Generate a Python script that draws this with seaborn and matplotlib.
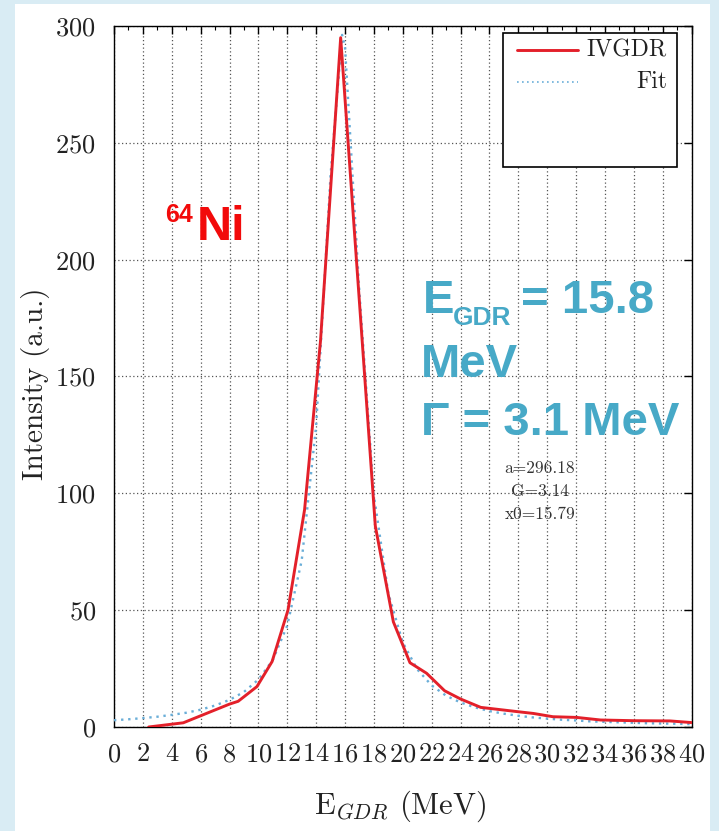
import matplotlib
matplotlib.use("Agg")
import matplotlib.pyplot as plt
import seaborn as sns
import pandas as pd
from matplotlib.patches import Rectangle
from matplotlib.lines import Line2D
from matplotlib.ticker import MultipleLocator

# ---------------- data ----------------
ivgdr_x = [2.4, 4.8, 8.0, 8.6, 9.9, 10.95, 12.05, 13.2, 14.3, 15.7, 18.1, 19.35,
           20.5, 21.65, 22.9, 24.0, 25.4, 27.9, 29.05, 30.4, 32.05, 33.7, 36.0, 38.5, 40.0]
ivgdr_y = [0.0, 1.8, 9.8, 11.0, 17.3, 28.0, 50.0, 93.0, 165.0, 295.0, 86.0, 45.0,
           27.5, 23.0, 15.5, 12.0, 8.4, 6.6, 5.8, 4.4, 4.1, 3.0, 2.7, 2.6, 1.9]

fit_x = [0, 1, 2, 3, 4, 5, 6, 7, 8, 9, 10, 11, 12, 13, 14, 15, 15.8, 16, 17, 18, 19, 20,
         21, 22, 23, 24, 25, 26, 27, 28, 29, 30, 31, 32, 33, 34, 35, 36, 37, 38, 39, 40]
fit_y = [2.9, 3.3, 3.8, 4.4, 5.2, 6.1, 7.4, 9.2, 11.6, 15.0, 20.3, 28.7, 43.4, 71.2,
         128.8, 236.3, 296.2, 291.0, 185.8, 99.3, 57.2, 36.2, 24.7, 17.8, 13.4, 10.5,
         8.4, 6.8, 5.7, 4.8, 4.1, 3.6, 3.1, 2.8, 2.4, 2.2, 2.0, 1.8, 1.6, 1.5, 1.4, 1.2]

series_names = ["IVGDR", "Fit"]
x_ticks = [0, 2, 4, 6, 8, 10, 12, 14, 16, 18, 20, 22, 24, 26, 28, 30, 32, 34, 36, 38, 40]
y_ticks = [0, 50, 100, 150, 200, 250, 300]
fit_params = ["a=296.18", "G=3.14", "x0=15.79"]

# ---------------- style ----------------
sns.set_theme(style="white")
plt.rcParams["font.family"] = ["cmr10", "DejaVu Serif"]
plt.rcParams["mathtext.fontset"] = "cm"
plt.rcParams["axes.formatter.use_mathtext"] = True

W, H = 719, 831
fig = plt.figure(figsize=(W / 100, H / 100), dpi=100, facecolor="#d9ecf4")
fig.add_artist(Rectangle((15 / W, 0), (710 - 15) / W, (H - 4) / H,
                         transform=fig.transFigure, facecolor="white",
                         edgecolor="none", zorder=-5))

ax = fig.add_axes([114 / W, 1 - 727 / H, (691.5 - 114) / W, (727 - 26) / H])
ax.set_facecolor("white")

df = pd.concat([
    pd.DataFrame({"E": ivgdr_x, "I": ivgdr_y, "series": series_names[0]}),
    pd.DataFrame({"E": fit_x, "I": fit_y, "series": series_names[1]}),
], ignore_index=True)

red = "#e3202a"
blue = "#6aaed8"
sns.lineplot(data=df[df.series == "Fit"], x="E", y="I", color=blue, lw=1.7,
             linestyle=(0, (1, 2)), sort=False, estimator=None, ax=ax, zorder=3)
sns.lineplot(data=df[df.series == "IVGDR"], x="E", y="I", color=red, lw=2.1,
             sort=False, estimator=None, ax=ax, zorder=4)

ax.set_xlim(0, 40)
ax.set_ylim(0, 300)
ax.set_xticks(x_ticks)
ax.set_yticks(y_ticks)
ax.xaxis.set_minor_locator(MultipleLocator(1))
ax.grid(True, which="major", color="#555555", linestyle=(0, (1, 2)), linewidth=0.9)
for s in ax.spines.values():
    s.set_color("black")
    s.set_linewidth(1.0)
ax.tick_params(which="both", direction="in", top=True, right=True, colors="black",
               labelcolor="#222222")
ax.tick_params(which="major", length=6, width=1.0, labelsize=19)
ax.tick_params(which="minor", length=3, width=0.8)
ax.tick_params(axis="x", pad=11)
ax.tick_params(axis="y", pad=13)

ax.set_xlabel(r"E$_{GDR}$ (MeV)", fontsize=22, color="#222222")
ax.xaxis.set_label_coords(0.495, -0.088)
ax.set_ylabel("Intensity (a.u.)", fontsize=21, color="#222222")
ax.yaxis.set_label_coords(-0.11, 0.49)

# ---------------- legend (gnuplot style) ----------------
ax.add_patch(Rectangle((0.6736, 0.799), 0.975 - 0.6736, 0.990 - 0.799,
                       transform=ax.transAxes, facecolor="white", edgecolor="black",
                       lw=1.2, zorder=6))
ax.add_line(Line2D([0.698, 0.803], [0.9658, 0.9658], transform=ax.transAxes,
                   color=red, lw=2.1, zorder=7))
ax.add_line(Line2D([0.698, 0.803], [0.920, 0.920], transform=ax.transAxes,
                   color=blue, lw=1.2, linestyle=(0, (1, 2)), zorder=7))
ax.text(0.9576, 0.9658, series_names[0], transform=ax.transAxes, ha="right",
        va="center", fontsize=17, color="#222222", zorder=8)
ax.text(0.9576, 0.920, series_names[1], transform=ax.transAxes, ha="right",
        va="center", fontsize=17, color="#222222", zorder=8)

# ---------------- annotations ----------------
def fx(px):
    return px / W

def fy(py):
    return 1 - py / H

sans = ["Liberation Sans", "DejaVu Sans"]
ncol = "#f20a0a"
fig.text(fx(165), fy(222), "64", fontsize=18, weight="bold", color=ncol,
         family=sans, va="baseline", ha="left")
fig.text(fx(197), fy(240), "Ni", fontsize=35, weight="bold", color=ncol,
         family=sans, va="baseline", ha="left")

tcol = "#47a9c7"
fig.text(fx(423), fy(313), "E", fontsize=34, weight="bold", color=tcol,
         family=sans, va="baseline", ha="left")
fig.text(fx(453), fy(325), "GDR", fontsize=19, weight="bold", color=tcol,
         family=sans, va="baseline", ha="left")
fig.text(fx(521), fy(313), "= 15.8", fontsize=34, weight="bold", color=tcol,
         family=sans, va="baseline", ha="left")
fig.text(fx(421), fy(377), "MeV", fontsize=34, weight="bold", color=tcol,
         family=sans, va="baseline", ha="left")
fig.text(fx(421), fy(435), "\u0393 = 3.1 MeV", fontsize=34, weight="bold", color=tcol,
         family=sans, va="baseline", ha="left")

for txt, by in zip(fit_params, [473, 496, 519]):
    fig.text(fx(540), fy(by), txt, fontsize=12.5, color="#333333",
             va="baseline", ha="center")

fig.savefig("out.png", dpi=100, facecolor=fig.get_facecolor())
